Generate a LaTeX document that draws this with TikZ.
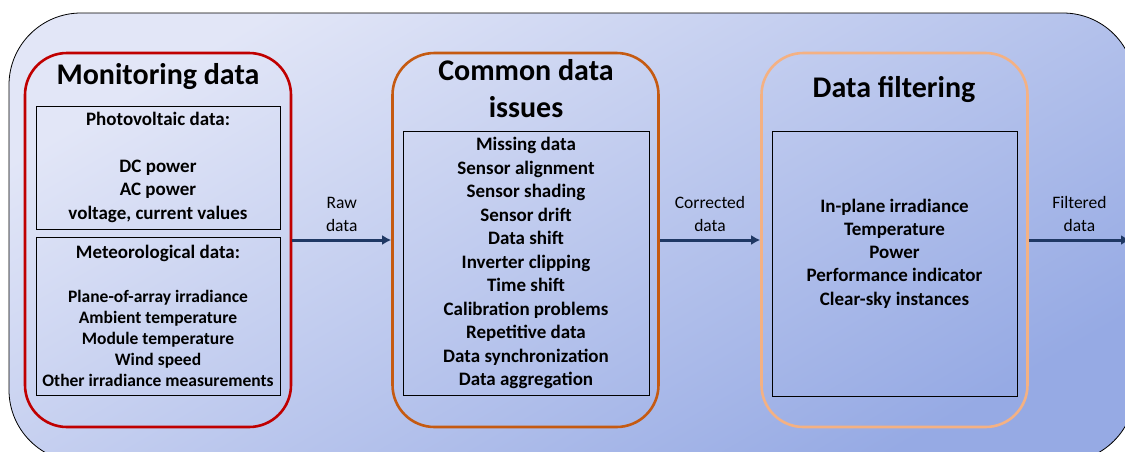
\documentclass[tikz,border=0pt]{standalone}
\usepackage{fontspec}
\setmainfont{Carlito}
\usetikzlibrary{positioning,arrows.meta}

\definecolor{monred}{RGB}{192,0,0}
\definecolor{issorange}{RGB}{197,90,17}
\definecolor{filtpeach}{RGB}{244,177,131}
\definecolor{flownavy}{RGB}{31,56,100}
\definecolor{bglight}{RGB}{226,230,247}
\definecolor{bgdark}{RGB}{150,170,228}

\begin{document}
\begin{tikzpicture}[x=1pt, y=-1pt,
    stage/.style={draw, line width=2.6pt, rounded corners=42pt,
                  minimum width=266pt, minimum height=374pt},
    title/.style={font=\fontsize{30}{37}\selectfont\bfseries, align=center},
    listbox/.style={draw, line width=0.7pt, align=center, inner sep=0pt,
                    font=\fontsize{19}{23.5}\selectfont\bfseries},
    flow/.style={-{Latex[length=9pt,width=10pt]}, line width=3pt, flownavy},
    flowlabel/.style={align=center, text=black, font=\fontsize{17.5}{23}\selectfont}]
  \useasboundingbox (0,0) rectangle (1125,451);
  \clip (0,0) rectangle (1125,451);
  % background panel
  \shade[top color=bglight, bottom color=bgdark, shading angle=30,
         draw=black, line width=0.8pt, rounded corners=72pt]
    (9,13) rectangle (1135,462);

  % the three stages
  \node[stage, draw=monred]    (mon)    at (158,240) {};
  \node[stage, draw=issorange] (issues) at (525.5,240) {};
  \node[stage, draw=filtpeach] (filt)   at (894.5,240) {};

  \node[title] (montitle) at (158,77)  {Monitoring data};
  \node[title] (isstitle) at (526,89)  {Common data\\issues};
  \node[title] (filttitle) at (894,89) {Data filtering};

  % monitoring data
  \node[listbox, minimum width=244pt, minimum height=123pt] (pv) at (158,167.5)
    {Photovoltaic data:\\[23pt]DC power\\AC power\\voltage, current values};
  \node[listbox, minimum width=244pt, minimum height=158pt,
        font=\fontsize{17.5}{21}\selectfont\bfseries] (met) at (158,316)
    {{\fontsize{19}{21}\selectfont Meteorological data:}\\[23pt]
     Plane-of-array irradiance\\Ambient temperature\\Module temperature\\
     Wind speed\\Other irradiance measurements};

  % data issues
  \node[listbox, minimum width=246pt, minimum height=264pt] (isslist) at (526,263)
    {Missing data\\Sensor alignment\\Sensor shading\\Sensor drift\\Data shift\\
     Inverter clipping\\Time shift\\Calibration problems\\Repetitive data\\
     Data synchronization\\Data aggregation};

  % filtering
  \node[listbox, minimum width=245pt, minimum height=265pt] (filtlist) at (894.5,263.5) {};
  \node[align=center, font=\fontsize{19}{23.3}\selectfont\bfseries]
    (filttext) at ([yshift=10pt]filtlist.center)
    {In-plane irradiance\\Temperature\\Power\\Performance indicator\\Clear-sky instances};

  % flows
  \coordinate (out) at (1130,240);
  \draw[flow] (mon) -- node[flowlabel, above=4pt] (rawlbl) {Raw\\data} (issues);
  \draw[flow] (issues) -- node[flowlabel, above=4pt] (corlbl) {Corrected\\data} (filt);
  \draw[flow] (filt) -- node[flowlabel, above=4pt] (fillbl) {Filtered\\data} (out);
\end{tikzpicture}
\end{document}
